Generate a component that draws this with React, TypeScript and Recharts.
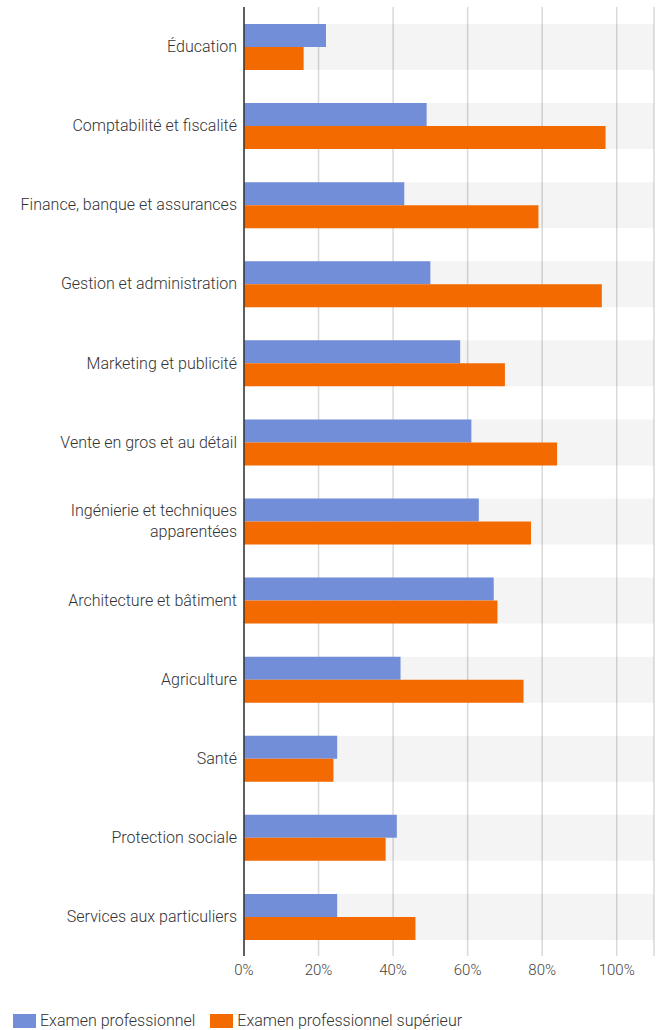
import React from "react";
import { BarChart, Bar, XAxis, YAxis, CartesianGrid, Legend, Text } from "recharts";

const categories = [
  "Éducation",
  "Comptabilité et fiscalité",
  "Finance, banque et assurances",
  "Gestion et administration",
  "Marketing et publicité",
  "Vente en gros et au détail",
  "Ingénierie et techniques apparentées",
  "Architecture et bâtiment",
  "Agriculture",
  "Santé",
  "Protection sociale",
  "Services aux particuliers",
];

const examenPro = [0.22, 0.49, 0.43, 0.5, 0.58, 0.61, 0.63, 0.67, 0.42, 0.25, 0.41, 0.25];
const examenProSup = [0.16, 0.97, 0.79, 0.96, 0.7, 0.84, 0.77, 0.68, 0.75, 0.24, 0.38, 0.46];

const xTicks = [0, 0.2, 0.4, 0.6, 0.8, 1];

const BLUE = "#738ed8";
const ORANGE = "#f36a00";

const data = categories.map((name, i) => ({
  name,
  pro: examenPro[i],
  sup: examenProSup[i],
}));

function CategoryTick({ x, y, payload }: any) {
  return (
    <Text
      x={x + 1}
      y={y}
      width={232}
      textAnchor="end"
      verticalAnchor="middle"
      lineHeight="1.3em"
      fontSize={16}
      fontWeight={300}
      fill="#333"
    >
      {payload.value}
    </Text>
  );
}

function LegendContent() {
  const items = [
    { label: "Examen professionnel", color: BLUE },
    { label: "Examen professionnel supérieur", color: ORANGE },
  ];
  return (
    <div style={{ display: "flex", paddingLeft: 13, paddingTop: 25, fontSize: 16, fontWeight: 300, color: "#333" }}>
      {items.map((it) => (
        <div key={it.label} style={{ display: "flex", alignItems: "center", marginRight: 15 }}>
          <span style={{ width: 23, height: 14, background: it.color, marginRight: 4, display: "inline-block" }} />
          <span>{it.label}</span>
        </div>
      ))}
    </div>
  );
}

export default function App() {
  return (
    <div style={{ position: "absolute", left: 0, top: 0, fontFamily: "Roboto, sans-serif" }}>
      <BarChart
        width={662}
        height={1030}
        data={data}
        layout="vertical"
        margin={{ top: 7, right: 8, bottom: 0, left: 0 }}
        barGap={0}
        barSize={23}
      >
        <CartesianGrid horizontal={false} stroke="#d9d9d9" strokeWidth={1.5} />
        <XAxis
          type="number"
          domain={[0, 1.1]}
          ticks={xTicks}
          tickFormatter={(v) => `${Math.round(v * 100)}%`}
          axisLine={false}
          tickLine={false}
          height={30}
          tick={{ fontSize: 15, fontWeight: 300, fill: "#444" }}
        />
        <YAxis
          type="category"
          dataKey="name"
          width={244}
          axisLine={{ stroke: "#333", strokeWidth: 1.5 }}
          tickLine={false}
          tick={<CategoryTick />}
          interval={0}
        />
        <Legend verticalAlign="bottom" height={44} content={<LegendContent />} />
        <Bar
          dataKey="pro"
          name="Examen professionnel"
          fill={BLUE}
          background={{ fill: "rgba(0,0,0,0.045)" }}
          isAnimationActive={false}
        />
        <Bar
          dataKey="sup"
          name="Examen professionnel supérieur"
          fill={ORANGE}
          background={{ fill: "rgba(0,0,0,0.045)" }}
          isAnimationActive={false}
        />
      </BarChart>
    </div>
  );
}
